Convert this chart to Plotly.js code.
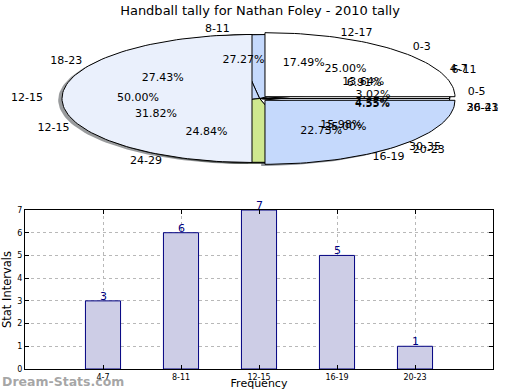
<!DOCTYPE html>
<html>
<head>
<meta charset="utf-8">
<script src="https://cdn.plot.ly/plotly-3.0.1.min.js"></script>
<style>html,body{margin:0;padding:0;background:#fff;}#chart{width:520px;height:390px;}</style>
</head>
<body>
<div id="chart"></div>
<script>
// ---- Data ----
const chartTitle = "Handball tally for Nathan Foley - 2010 tally";
// Bar chart (also the middle pie)
const barCategories = ["4-7", "8-11", "12-15", "16-19", "20-23"];
const barValues = [3, 6, 7, 5, 1];
// Pie drawn first (bottom layer): same frequency data
const pieYLabels = barCategories;
const pieYValues = barValues;
// Pie drawn second
const pieZLabels = ["0-5", "6-11", "12-17", "18-23", "24-29", "30-35", "36-41"];
const pieZValues = [3.02, 6.91, 17.49, 27.43, 24.84, 15.98, 4.33];
// Pie drawn last (top layer, exploded)
const pieXLabels = ["0-3", "12-15", "20-23"];
const pieXValues = [1, 2, 1];
const yAxisTitle = "Stat Intervals";
const xAxisTitle = "Frequency";
const watermark = "Dream-Stats.com";

// ---- Styles ----
const palette = ["#ffffff", "#eaf0fc", "#c5d9fc", "#c5d9fc", "#cfe88f", "#ffffff", "#eaf0fc"];
const FONT = "DejaVu Sans";

function hexToRgb(h) {
  return [parseInt(h.substr(1,2),16), parseInt(h.substr(3,2),16), parseInt(h.substr(5,2),16)];
}

const shadowTraces = [], wedgeTraces = [], textTraces = [];

function addPie(labels, values, explode) {
  const total = values.reduce((a, b) => a + b, 0);
  let start = 0;
  const lx = [], ly = [], lt = [], lp = [];
  const px = [], py = [], pt = [];
  values.forEach((v, i) => {
    const t1 = start / total * 2 * Math.PI;
    const t2 = (start + v) / total * 2 * Math.PI;
    start += v;
    const tm = (t1 + t2) / 2;
    const cx = explode * Math.cos(tm), cy = explode * Math.sin(tm);
    const n = Math.max(4, Math.ceil((t2 - t1) / (2 * Math.PI) * 200));
    const xs = [cx], ys = [cy];
    for (let k = 0; k <= n; k++) {
      const t = t1 + (t2 - t1) * k / n;
      xs.push(cx + Math.cos(t)); ys.push(cy + Math.sin(t));
    }
    xs.push(cx); ys.push(cy);
    const col = palette[i % palette.length];
    const rgb = hexToRgb(col).map(c => Math.round(c * 0.3));
    shadowTraces.push({
      type: "scatter", mode: "lines", xaxis: "x2", yaxis: "y2",
      x: xs.map(x => x - 0.02), y: ys.map(y => y - 0.025),
      fill: "toself", fillcolor: `rgba(${rgb[0]},${rgb[1]},${rgb[2]},0.55)`,
      line: {width: 0}, hoverinfo: "skip"
    });
    wedgeTraces.push({
      type: "scatter", mode: "lines", xaxis: "x2", yaxis: "y2",
      x: xs, y: ys, fill: "toself", fillcolor: col,
      line: {color: "#000000", width: 1}, hoverinfo: "skip"
    });
    const xt = cx + 1.1 * Math.cos(tm), yt = cy + 1.1 * Math.sin(tm);
    lx.push(xt); ly.push(yt); lt.push(labels[i]);
    lp.push(xt > 0 ? "middle right" : "middle left");
    px.push(cx + 0.6 * Math.cos(tm)); py.push(cy + 0.6 * Math.sin(tm));
    pt.push((v / total * 100).toFixed(2) + "%");
  });
  textTraces.push({
    type: "scatter", mode: "text", xaxis: "x2", yaxis: "y2",
    x: lx, y: ly, text: lt, textposition: lp, cliponaxis: false,
    textfont: {family: FONT, size: 11, color: "#000000"}, hoverinfo: "skip"
  });
  textTraces.push({
    type: "scatter", mode: "text", xaxis: "x2", yaxis: "y2",
    x: px, y: py, text: pt, textposition: "middle center", cliponaxis: false,
    textfont: {family: FONT, size: 11, color: "#000000"}, hoverinfo: "skip"
  });
}

addPie(pieYLabels, pieYValues, 0);
addPie(pieZLabels, pieZValues, 0);
addPie(pieXLabels, pieXValues, 0.04);

const barTrace = {
  type: "bar", x: barCategories, y: barValues, width: 0.45,
  marker: {color: "#cdcde6", line: {color: "#000080", width: 1}},
  hoverinfo: "skip"
};

const W = 520, H = 390;
// pie area: ellipse centre (259.6, 98.5) px, radii 190 x 64 px, region y 0..190 px
const pcx = 259.6, pcy = 98.5, rx = 190, ry = 64, pieH = 190;

const barLabelAnnotations = barCategories.map((c, i) => ({
  x: c, y: barValues[i], xref: "x", yref: "y", text: String(barValues[i]),
  showarrow: false, yanchor: "bottom", yshift: -4,
  font: {family: FONT, size: 11, color: "#000080"}
}));

const layout = {
  width: W, height: H,
  margin: {l: 0, r: 0, t: 0, b: 0},
  paper_bgcolor: "#ffffff", plot_bgcolor: "#ffffff",
  showlegend: false,
  font: {family: FONT, size: 11, color: "#000000"},
  title: {text: chartTitle, x: 0.5, xanchor: "center", y: 1 - 10.5 / H, yanchor: "middle",
          font: {family: FONT, size: 13, color: "#000000"}},
  xaxis2: {domain: [0, 1], anchor: "y2", range: [-pcx / rx, (W - pcx) / rx], visible: false, fixedrange: true},
  yaxis2: {domain: [1 - pieH / H, 1], anchor: "x2", range: [-(pieH - pcy) / ry, pcy / ry], visible: false, fixedrange: true},
  xaxis: {
    domain: [25 / W, 493 / W], anchor: "y", type: "category", range: [-1, 5],
    showline: true, linecolor: "#000000", linewidth: 1, mirror: "allticks",
    ticks: "inside", ticklen: 4, tickcolor: "#000000",
    showgrid: true, gridcolor: "#b8b8b8", griddash: "dot", gridwidth: 1,
    tickfont: {family: FONT, size: 8, color: "#000000"},
    title: {text: xAxisTitle, standoff: 13, font: {family: FONT, size: 11}},
    automargin: false
  },
  yaxis: {
    domain: [(H - 369) / H, (H - 210) / H], anchor: "x", range: [0, 7], dtick: 1,
    showline: true, linecolor: "#000000", linewidth: 1, mirror: "allticks",
    ticks: "inside", ticklen: 4, tickcolor: "#000000", zeroline: false,
    showgrid: true, gridcolor: "#b8b8b8", griddash: "dot", gridwidth: 1,
    tickfont: {family: FONT, size: 8, color: "#000000"},
    title: {text: yAxisTitle, standoff: 3, font: {family: FONT, size: 11.5}},
    automargin: false
  },
  annotations: [...barLabelAnnotations, {
    text: watermark, xref: "paper", yref: "paper", x: 0, y: (H - 381) / H,
    xanchor: "left", yanchor: "middle", showarrow: false,
    font: {family: FONT, size: 12.5, color: "rgba(150,150,150,0.85)", weight: "bold"}
  }]
};

Plotly.newPlot("chart", [...shadowTraces, ...wedgeTraces, barTrace, ...textTraces], layout,
  {staticPlot: true, displayModeBar: false});
</script>
</body>
</html>
